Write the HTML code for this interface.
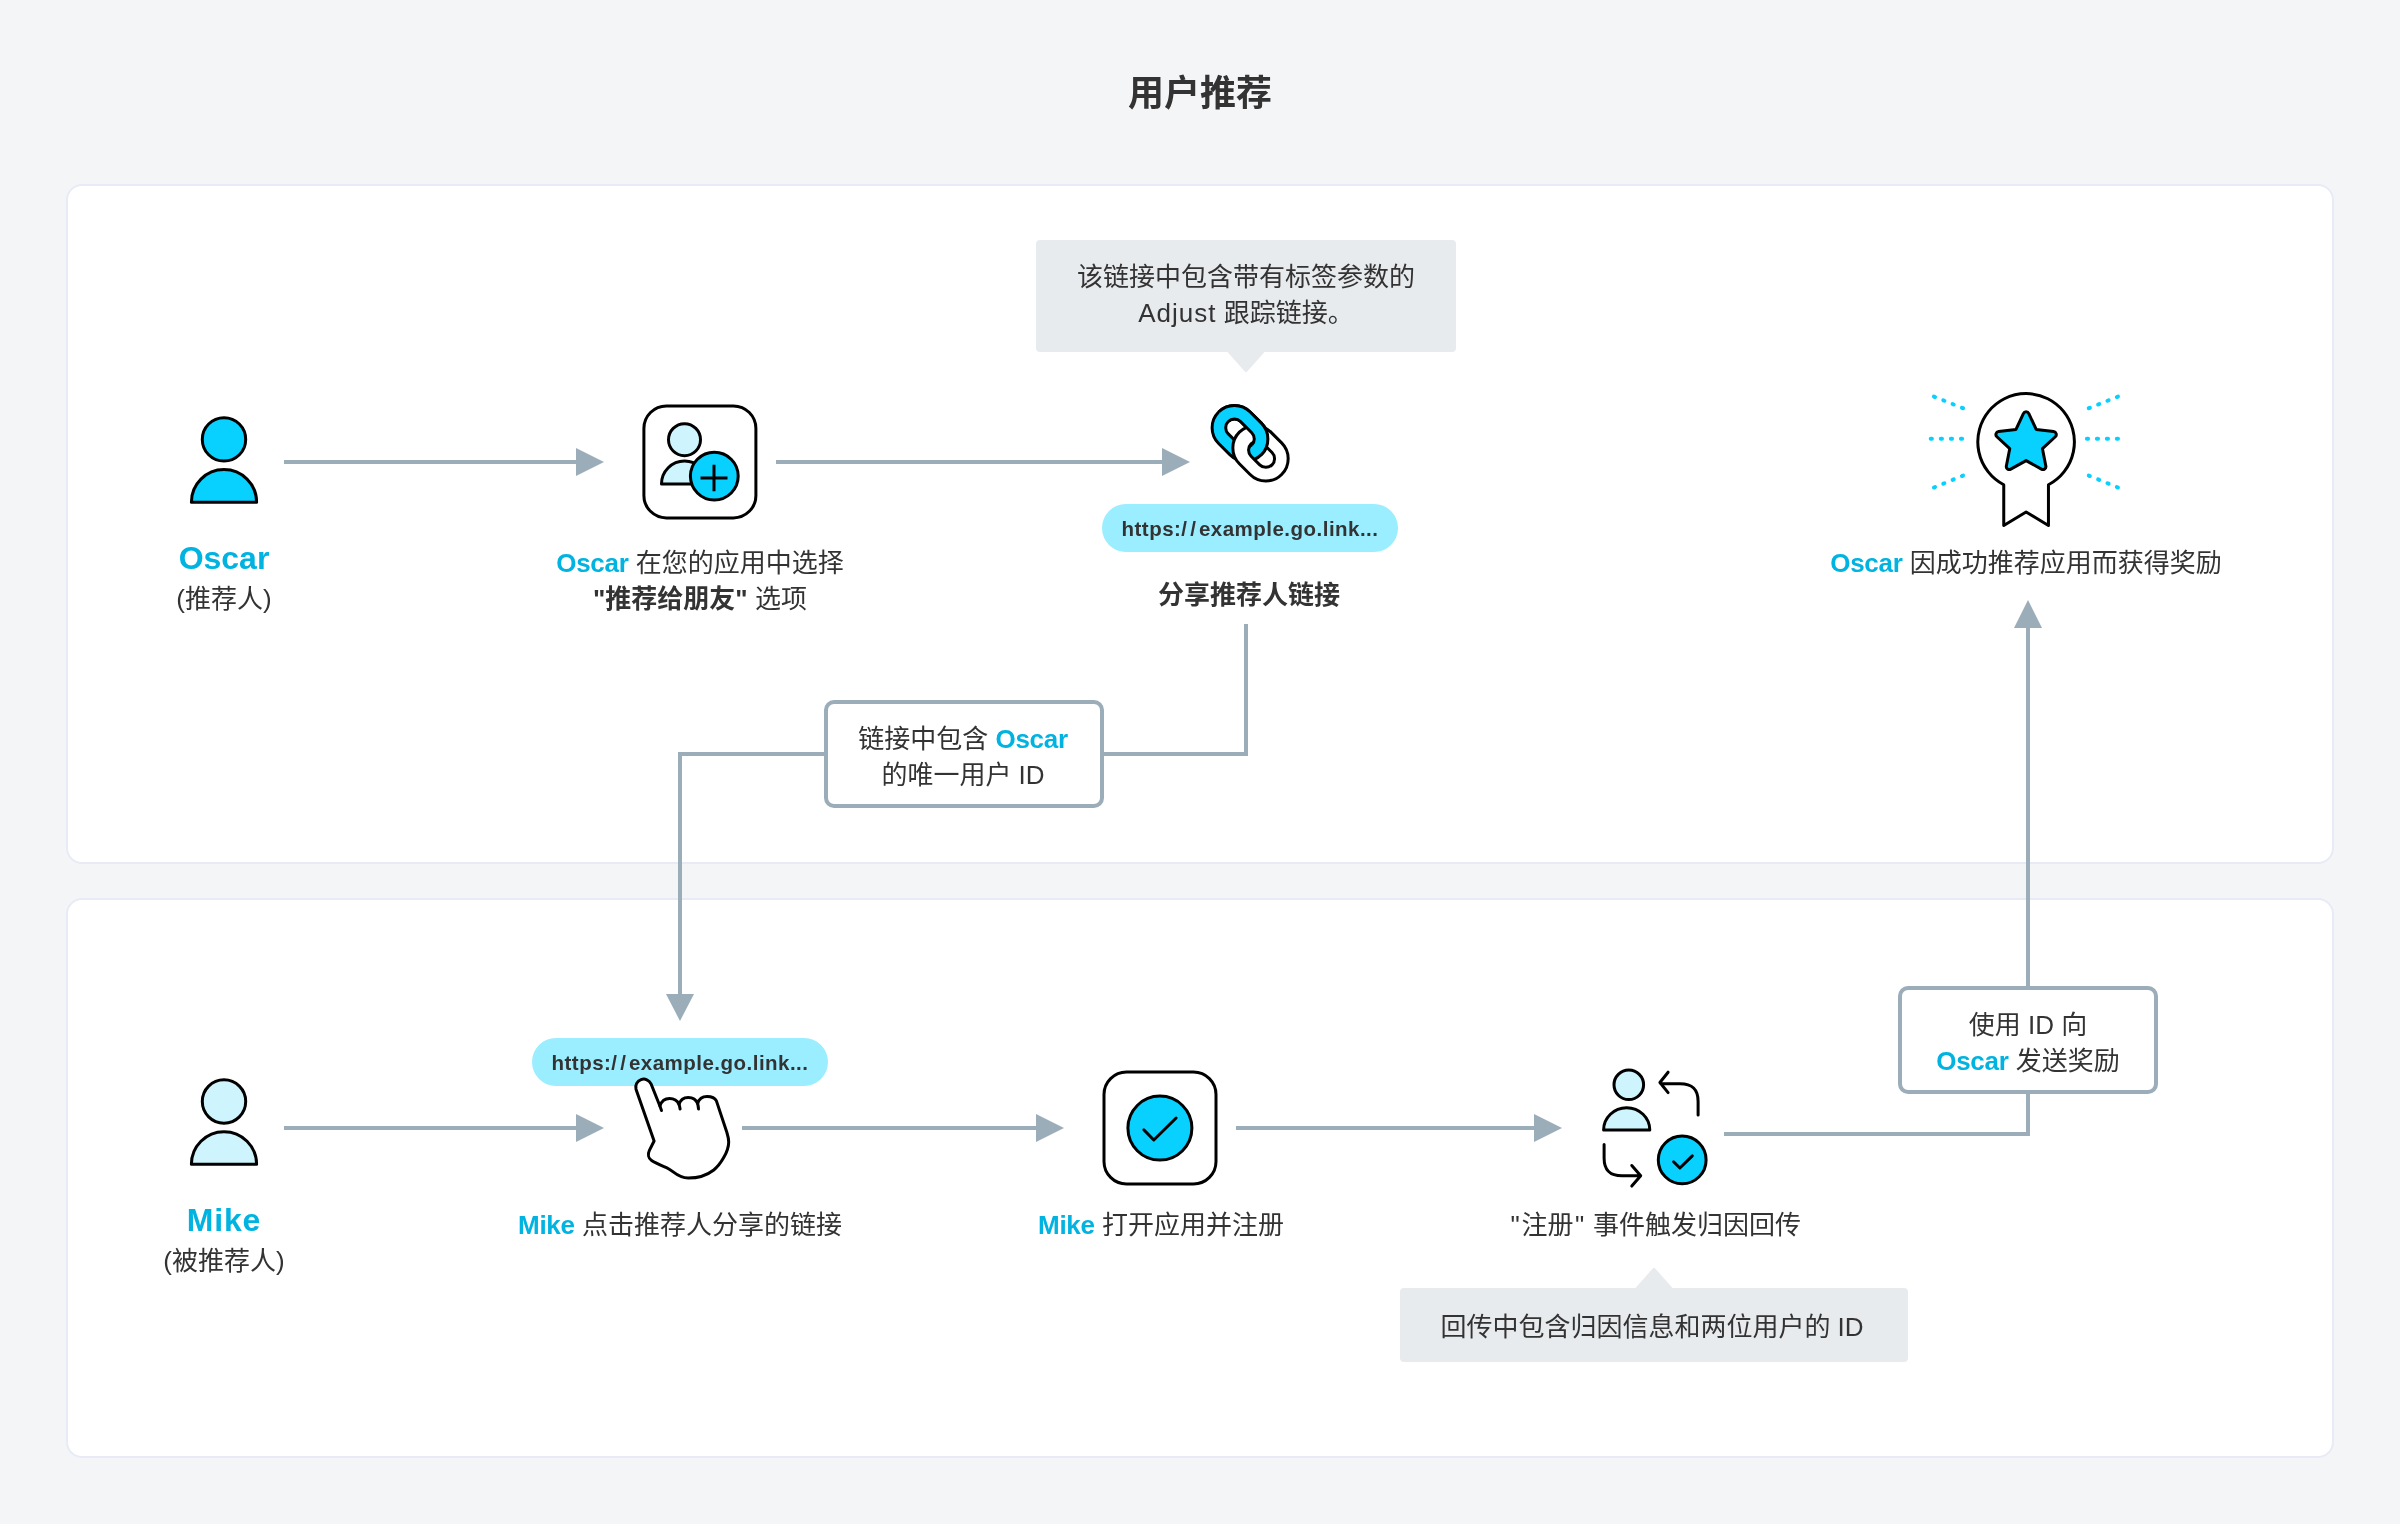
<!DOCTYPE html>
<html lang="zh-CN">
<head>
<meta charset="utf-8">
<title>用户推荐</title>
<style>
*{box-sizing:border-box;margin:0;padding:0}
html,body{width:2400px;height:1524px;overflow:hidden;background:#f4f5f7}
body{position:relative;font-family:"Liberation Sans","Noto Sans CJK SC",sans-serif;color:#333;-webkit-font-smoothing:antialiased}
.panel{position:absolute;left:66px;width:2268px;background:#fff;border:2px solid #e8ebf6;border-radius:16px}
#p1{top:184px;height:680px}
#p2{top:898px;height:560px}
.t{position:absolute;will-change:transform;white-space:nowrap;text-align:center;transform:translateX(-50%);font-size:26px;line-height:36px;color:#333}
.b{color:#00b3e0;font-weight:700;letter-spacing:-.3px}
.name .b{letter-spacing:0}
.q{padding:0 1.6px}
.ls1{letter-spacing:1px}
.title{font-size:36px;font-weight:700;line-height:52px;left:1200px;top:68px}
.name{font-size:32px;line-height:40px}
.tip{position:absolute;background:#e8ebee;border-radius:4px}
.box{position:absolute;background:#fff;border:4px solid #9badb9;border-radius:10px}
.pill{position:absolute;will-change:transform;background:#9aeeff;border-radius:24px;height:48px;width:296px;text-align:center;font-size:20.5px;font-weight:700;line-height:50px;color:#333;letter-spacing:.48px}
.sl{letter-spacing:3.1px}
svg{position:absolute;left:0;top:0}
</style>
</head>
<body>
<div class="panel" id="p1"></div>
<div class="panel" id="p2"></div>

<div class="t title">用户推荐</div>

<div class="tip" style="left:1036px;top:240px;width:420px;height:112px"></div>
<div class="tip" style="left:1400px;top:1288px;width:508px;height:74px"></div>

<svg id="art" width="2400" height="1524" viewBox="0 0 2400 1524" fill="none">
<path d="M284 462H578" stroke="#9badb9" stroke-width="4"/>
<path d="M576 448L604 462L576 476Z" fill="#9badb9"/>
<path d="M776 462H1164" stroke="#9badb9" stroke-width="4"/>
<path d="M1162 448L1190 462L1162 476Z" fill="#9badb9"/>
<path d="M284 1128H578" stroke="#9badb9" stroke-width="4"/>
<path d="M576 1114L604 1128L576 1142Z" fill="#9badb9"/>
<path d="M742 1128H1038" stroke="#9badb9" stroke-width="4"/>
<path d="M1036 1114L1064 1128L1036 1142Z" fill="#9badb9"/>
<path d="M1236 1128H1536" stroke="#9badb9" stroke-width="4"/>
<path d="M1534 1114L1562 1128L1534 1142Z" fill="#9badb9"/>
<path d="M1246 624V754H1103M826 754H680V996" stroke="#9badb9" stroke-width="4" stroke-linejoin="miter"/>
<path d="M666 994H694L680 1021Z" fill="#9badb9"/>
<path d="M1724 1134H2028V1093M2028 988V626" stroke="#9badb9" stroke-width="4" stroke-linejoin="miter"/>
<path d="M2014 628H2042L2028 600Z" fill="#9badb9"/>
<path d="M1227 351.5H1265L1247.2 371.6Q1246 373 1244.8 371.6Z" fill="#e8ebee"/>
<path d="M1635 1288.5H1673L1655.2 1268.4Q1654 1267 1652.8 1268.4Z" fill="#e8ebee"/>
<circle cx="224" cy="439.4" r="21.7" fill="#08d1ff" stroke="#000" stroke-width="3"/>
<path d="M191.4 502.2A32.6 32.6 0 0 1 256.6 502.2Z" fill="#08d1ff" stroke="#000" stroke-width="3" stroke-linejoin="round"/>
<circle cx="224" cy="1101.5" r="21.7" fill="#cef5fd" stroke="#000" stroke-width="3"/>
<path d="M191.4 1164.3A32.6 32.6 0 0 1 256.6 1164.3Z" fill="#cef5fd" stroke="#000" stroke-width="3" stroke-linejoin="round"/>
<rect x="643.9" y="405.9" width="112" height="112" rx="22.5" fill="#fff" stroke="#000" stroke-width="3"/>
<circle cx="684.5" cy="439.7" r="16" fill="#cef5fd" stroke="#000" stroke-width="3"/>
<path d="M661.5 484A23 23 0 0 1 707.5 484Z" fill="#cef5fd" stroke="#000" stroke-width="3" stroke-linejoin="round"/>
<circle cx="714.3" cy="476.1" r="23.9" fill="#08d1ff" stroke="#000" stroke-width="3"/>
<path d="M700.5 478H727.5M714 464.8V491.2" stroke="#000" stroke-width="3"/>
<rect x="1104" y="1072" width="112" height="112" rx="22.5" fill="#fff" stroke="#000" stroke-width="3"/>
<circle cx="1159.9" cy="1128.1" r="32" fill="#08d1ff" stroke="#000" stroke-width="3"/>
<path d="M1143.8 1129.8L1153.8 1140L1176.1 1118" stroke="#000" stroke-width="3" stroke-linecap="round" stroke-linejoin="round"/>
<circle cx="1628.8" cy="1084.8" r="14.8" fill="#cef5fd" stroke="#000" stroke-width="3"/>
<path d="M1603.6 1130A23.1 22.3 0 0 1 1649.8 1130Z" fill="#cef5fd" stroke="#000" stroke-width="3" stroke-linejoin="round"/>
<path d="M1698.1 1115V1101.5C1698.1 1089 1692 1083.8 1680 1083.8H1661M1668.1 1072.2L1659.9 1082.5L1668.1 1092.6" stroke="#000" stroke-width="3" stroke-linecap="round" stroke-linejoin="round"/>
<path d="M1604.1 1144.5V1158C1604.1 1170.5 1610 1175.8 1622 1175.8H1640M1631.8 1165.5L1640.7 1175.8L1631.8 1186.1" stroke="#000" stroke-width="3" stroke-linecap="round" stroke-linejoin="round"/>
<circle cx="1682.2" cy="1159.9" r="23.9" fill="#08d1ff" stroke="#000" stroke-width="3"/>
<path d="M1673.6 1161.8L1679.9 1168L1692.3 1155.9" stroke="#000" stroke-width="3" stroke-linecap="round" stroke-linejoin="round"/>
<clipPath id="lk"><path d="M1205 398L1300 493V398Z"/></clipPath>
<g><path transform="translate(1240 433.3) rotate(45)" d="M-7.9 -22.3H7.9A22.3 22.3 0 0 1 7.9 22.3H-7.9A22.3 22.3 0 0 1 -7.9 -22.3ZM-7.9 -8.7H7.9A8.7 8.7 0 0 1 7.9 8.7H-7.9A8.7 8.7 0 0 1 -7.9 -8.7Z" fill="#08d1ff" fill-rule="evenodd" stroke="#000" stroke-width="3"/></g>
<g><path transform="translate(1260.5 453.3) rotate(45)" d="M-7.6 -22.3H7.6A22.3 22.3 0 0 1 7.6 22.3H-7.6A22.3 22.3 0 0 1 -7.6 -22.3ZM-4.6 -8.7H7.6A8.7 8.7 0 0 1 7.6 8.7H-4.6A8.7 8.7 0 0 1 -4.6 -8.7Z" fill="#fff" fill-rule="evenodd" stroke="#000" stroke-width="3"/></g>
<g clip-path="url(#lk)"><path transform="translate(1240 433.3) rotate(45)" d="M-7.9 -22.3H7.9A22.3 22.3 0 0 1 7.9 22.3H-7.9A22.3 22.3 0 0 1 -7.9 -22.3ZM-7.9 -8.7H7.9A8.7 8.7 0 0 1 7.9 8.7H-7.9A8.7 8.7 0 0 1 -7.9 -8.7Z" fill="#08d1ff" fill-rule="evenodd" stroke="#000" stroke-width="3"/></g>
<path d="M2003.75 484.72A48.3 48.3 0 1 1 2048.45 484.72V525.5L2026.1 512L2003.75 525.5Z" fill="#fff" stroke="#000" stroke-width="3" stroke-linejoin="round"/>
<path d="M2023.38 413.56A3 3 0 0 1 2028.82 413.56L2036.21 429.48L2053.64 431.59A3 3 0 0 1 2055.32 436.77L2042.46 448.72L2045.84 465.94A3 3 0 0 1 2041.44 469.14L2026.1 460.6L2010.76 469.14A3 3 0 0 1 2006.36 465.94L2009.74 448.72L1996.88 436.77A3 3 0 0 1 1998.56 431.59L2015.99 429.48Z" fill="#08d1ff" stroke="#000" stroke-width="3" stroke-linejoin="round"/>
<path d="M1933.94 396.58L1963.06 408.22" stroke="#08d1ff" stroke-width="4" stroke-linecap="round" stroke-dasharray="1.2 8.85"/>
<path d="M1930.7 438.8L1962.1 438.8" stroke="#08d1ff" stroke-width="4" stroke-linecap="round" stroke-dasharray="1.2 8.87"/>
<path d="M1933.94 487.53L1963.06 475.57" stroke="#08d1ff" stroke-width="4" stroke-linecap="round" stroke-dasharray="1.2 8.89"/>
<path d="M2117.96 396.58L2088.74 408.22" stroke="#08d1ff" stroke-width="4" stroke-linecap="round" stroke-dasharray="1.2 8.88"/>
<path d="M2118 438.8L2086.9 438.8" stroke="#08d1ff" stroke-width="4" stroke-linecap="round" stroke-dasharray="1.2 8.77"/>
<path d="M2117.96 487.53L2088.74 475.57" stroke="#08d1ff" stroke-width="4" stroke-linecap="round" stroke-dasharray="1.2 8.92"/>
</svg>

<div class="box" style="left:824px;top:700px;width:280px;height:108px"></div>
<div class="box" style="left:1898px;top:986px;width:260px;height:108px"></div>

<div class="pill" style="left:1102px;top:504px">https:<span class="sl">//</span>example.go.link...</div>
<div class="pill" style="left:532px;top:1038px">https:<span class="sl">//</span>example.go.link...</div>

<!-- TEXT -->
<div class="t" style="left:1246px;top:259px">该链接中包含带有标签参数的<br><span class="ls1">Adjust</span> 跟踪链接。</div>
<div class="t name" style="left:224px;top:538px"><span class="b">Oscar</span></div>
<div class="t" style="left:224px;top:581px">(推荐人)</div>
<div class="t" style="left:700px;top:545px"><span class="b">Oscar</span> 在您的应用中选择<br><b>"推荐给朋友"</b> 选项</div>
<div class="t" style="left:1249px;top:577px"><b>分享推荐人链接</b></div>
<div class="t" style="left:2026px;top:545px"><span class="b">Oscar</span> 因成功推荐应用而获得奖励</div>
<div class="t" style="left:963px;top:721px">链接中包含 <span class="b">Oscar</span><br>的唯一用户 ID</div>

<div class="t name" style="left:224px;top:1200px"><span class="b" style="letter-spacing:.8px">Mike</span></div>
<div class="t" style="left:224px;top:1243px">(被推荐人)</div>
<div class="t" style="left:680px;top:1207px"><span class="b">Mike</span> 点击推荐人分享的链接</div>
<div class="t" style="left:1161px;top:1207px"><span class="b">Mike</span> 打开应用并注册</div>
<div class="t" style="left:1655px;top:1207px"><span class="q">"</span>注册<span class="q">"</span> 事件触发归因回传</div>
<div class="t" style="left:2028px;top:1007px">使用 ID 向<br><span class="b">Oscar</span> 发送奖励</div>
<div class="t" style="left:1652px;top:1309px">回传中包含归因信息和两位用户的 ID</div>

<svg id="top" width="2400" height="1524" viewBox="0 0 2400 1524" fill="none">
<path d="M659.9 1106L651 1083.8A8 8 0 0 0 636 1089.2L654.1 1141L649.4 1150.4C647.6 1154 648.3 1158.3 651.6 1160.6C655.5 1163.3 662 1165.8 667.8 1168.3C672.5 1170.4 678 1178.1 688.2 1178.1C699 1178.1 708 1174.5 713.8 1170C720 1165 728.7 1152 728.7 1141.9C728.7 1138.5 727.8 1135.5 726.9 1132.5L716.4 1100.9C715 1098 711.5 1096.5 707 1096.5C702.5 1096.5 699 1099 697.6 1103.5C696.3 1100 693 1097.4 688.2 1097.4C683.8 1097.4 680.3 1100 679 1104.3C677.5 1101 674 1098.6 669.5 1098.6C665 1098.6 661.5 1101.5 659.9 1106Z" fill="#fff" stroke="#000" stroke-width="3" stroke-linejoin="round"/>
<path d="M659.9 1106L661.5 1110.5M679 1104.3Q679.7 1106.5 680.1 1109M697.6 1103.5Q698.3 1106 698.5 1109" stroke="#000" stroke-width="3" stroke-linecap="round" fill="none"/>
</svg>
</body>
</html>
